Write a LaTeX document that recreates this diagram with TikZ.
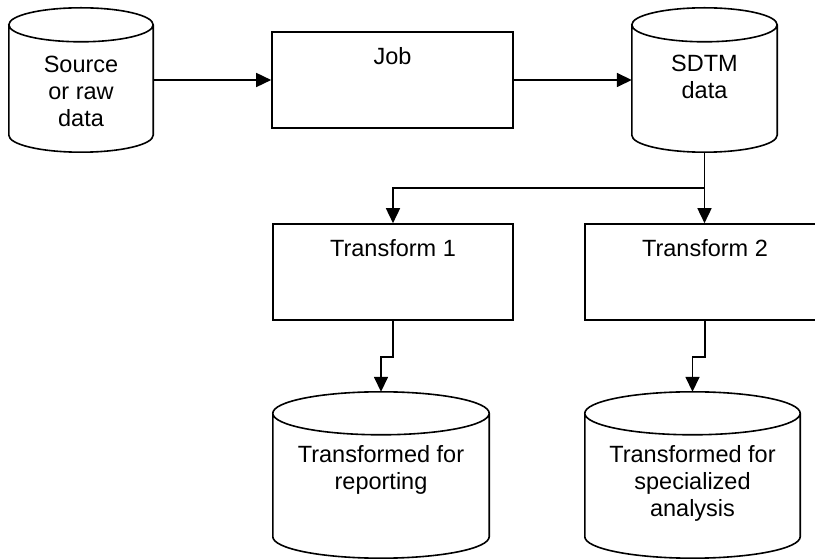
\documentclass[tikz,border=0pt]{standalone}
\usepackage{fontspec}
\setmainfont{Liberation Sans}
\usetikzlibrary{arrows.meta,calc}
\tikzset{
  ln/.style={line width=1.6pt, line join=miter},
  procbox/.style={draw, ln, rectangle, inner sep=0pt},
  cylbox/.style={rectangle, inner sep=0pt},
  lbl/.style={anchor=base, align=center, inner sep=0pt,
    font=\fontsize{23.5pt}{27pt}\selectfont},
  arr/.style={ln, -{Triangle[length=15pt,width=14pt]}}
}
\newcommand\drawcyl[2]{%
  \draw[ln] let \p1=(#1.north west), \p2=(#1.south east) in
    ({(\x1+\x2)/2},{\y1-#2pt}) ellipse[x radius={(\x2-\x1)/2}, y radius=#2pt]
    (\x1,{\y1-#2pt}) -- (\x1,{\y2+#2pt})
    arc[start angle=180, end angle=360, x radius={(\x2-\x1)/2}, y radius=#2pt]
    -- (\x2,{\y1-#2pt});}
\begin{document}
\begin{tikzpicture}[x=1pt,y=1pt]
\useasboundingbox (0,0) rectangle (815,560);
% nodes
\node[cylbox, minimum width=144pt, minimum height=144pt] (src) at (81,480) {};
\node[procbox, minimum width=241pt, minimum height=96pt] (job) at (392.5,480) {};
\node[cylbox, minimum width=145pt, minimum height=144pt] (sdtm) at (704.5,480) {};
\node[procbox, minimum width=240pt, minimum height=96pt] (t1) at (393,288) {};
\node[procbox, minimum width=240pt, minimum height=96pt] (t2) at (705,288) {};
\node[cylbox, minimum width=216pt, minimum height=166pt] (rep) at (381,85) {};
\node[cylbox, minimum width=215pt, minimum height=166pt] (spec) at (692.5,85) {};
\drawcyl{src}{17}
\drawcyl{sdtm}{17}
\drawcyl{rep}{21.5}
\drawcyl{spec}{21.5}
% labels (base anchor = baseline of the last line)
\node[lbl] (srct) at (81,433) {Source\\or raw\\data};
\node[lbl] (jobt) at (392.5,495) {Job};
\node[lbl] (sdtmt) at (704.5,461) {SDTM\\data};
\node[lbl] (t1t) at (393,303) {Transform 1};
\node[lbl] (t2t) at (705,303) {Transform 2};
\node[lbl] (rept) at (381,70) {Transformed for\\reporting};
\node[lbl] (spect) at (692.5,43) {Transformed for\\specialized\\analysis};
% connectors
\draw[arr] (src.east) -- (job.west);
\draw[arr] (job.east) -- (sdtm.west);
\draw[arr] (sdtm.south) -- (sdtm.south |- t2.north);
\draw[arr] (sdtm.south) -- ++(0,-36) -| (t1.north);
\draw[arr] (t1.south) -- ++(0,-36) -| (rep.north);
\draw[arr] (t2.south) -- ++(0,-36) -| (spec.north);
\end{tikzpicture}
\end{document}
